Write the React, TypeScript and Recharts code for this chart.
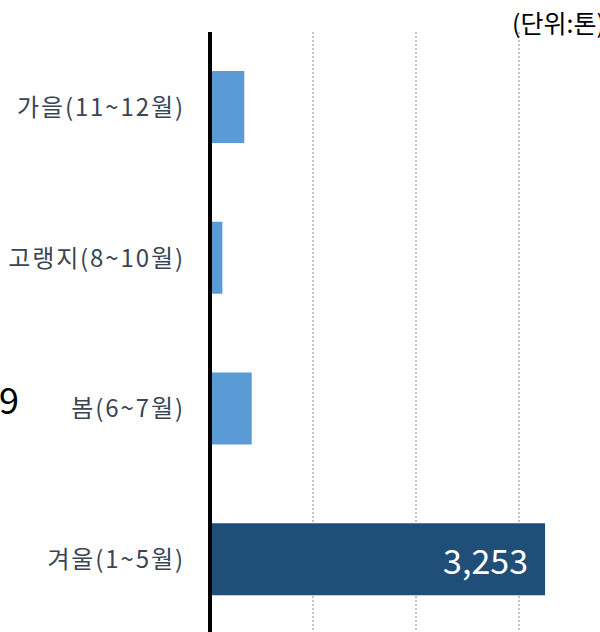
import React from 'react';
import { Bar, BarChart, CartesianGrid, Cell, LabelList, XAxis, YAxis } from 'recharts';

const seasons = ['가을(11~12월)', '고랭지(8~10월)', '봄(6~7월)', '겨울(1~5월)'];
const amounts = [333, 120, 405, 3253];
const xTicks = [0, 1000, 2000, 3000, 4000];

const data = seasons.map((name, i) => ({ name, value: amounts[i] }));

const FONT = '"Noto Sans CJK KR", "Noto Sans", sans-serif';

const ValueLabel = (props: any) => {
  const { x = 0, y = 0, width = 0, height = 0, value, index } = props;
  if (index !== 3) return null;
  return (
    <text
      x={x + width - 17}
      y={y + height / 2}
      textAnchor="end"
      dominantBaseline="central"
      fill="#ffffff"
      fontSize={34}
      fontFamily={FONT}
    >
      {Number(value).toLocaleString('en-US')}
    </text>
  );
};

const App: React.FC = () => {
  return (
    <div
      style={{
        position: 'absolute',
        left: 0,
        top: 0,
        width: 600,
        height: 632,
        overflow: 'hidden',
        background: '#fff',
        fontFamily: FONT,
      }}
    >
      <BarChart
        width={640}
        height={660}
        layout="vertical"
        data={data}
        margin={{ top: 32, right: 18, bottom: 25, left: 0 }}
      >
        <CartesianGrid horizontal={false} stroke="#c4c4c4" strokeWidth={2} strokeDasharray="2 2" />
        <XAxis type="number" domain={[0, 4000]} ticks={xTicks} hide />
        <YAxis
          type="category"
          dataKey="name"
          width={210}
          axisLine={{ stroke: '#000', strokeWidth: 4 }}
          tickLine={false}
          tickSize={0}
          tickMargin={25}
          tick={{ fill: '#3b4554', fontSize: 24, fontFamily: FONT, letterSpacing: 1.9 }}
          interval={0}
        />
        <Bar dataKey="value" barSize={72} isAnimationActive={false}>
          {data.map((_, i) => (
            <Cell key={`cell-${i}`} fill={i === 3 ? '#1f4e79' : '#5b9bd5'} />
          ))}
          <LabelList dataKey="value" content={<ValueLabel />} />
        </Bar>
      </BarChart>
      <div
        style={{
          position: 'absolute',
          left: 512,
          top: 5,
          fontSize: 25,
          color: '#000',
          whiteSpace: 'nowrap',
          lineHeight: '34px',
        }}
      >
        (단위:톤)
      </div>
      <div
        style={{
          position: 'absolute',
          right: 581,
          top: 375,
          fontSize: 36,
          color: '#000',
          lineHeight: '46px',
        }}
      >
        9
      </div>
    </div>
  );
};

export default App;
